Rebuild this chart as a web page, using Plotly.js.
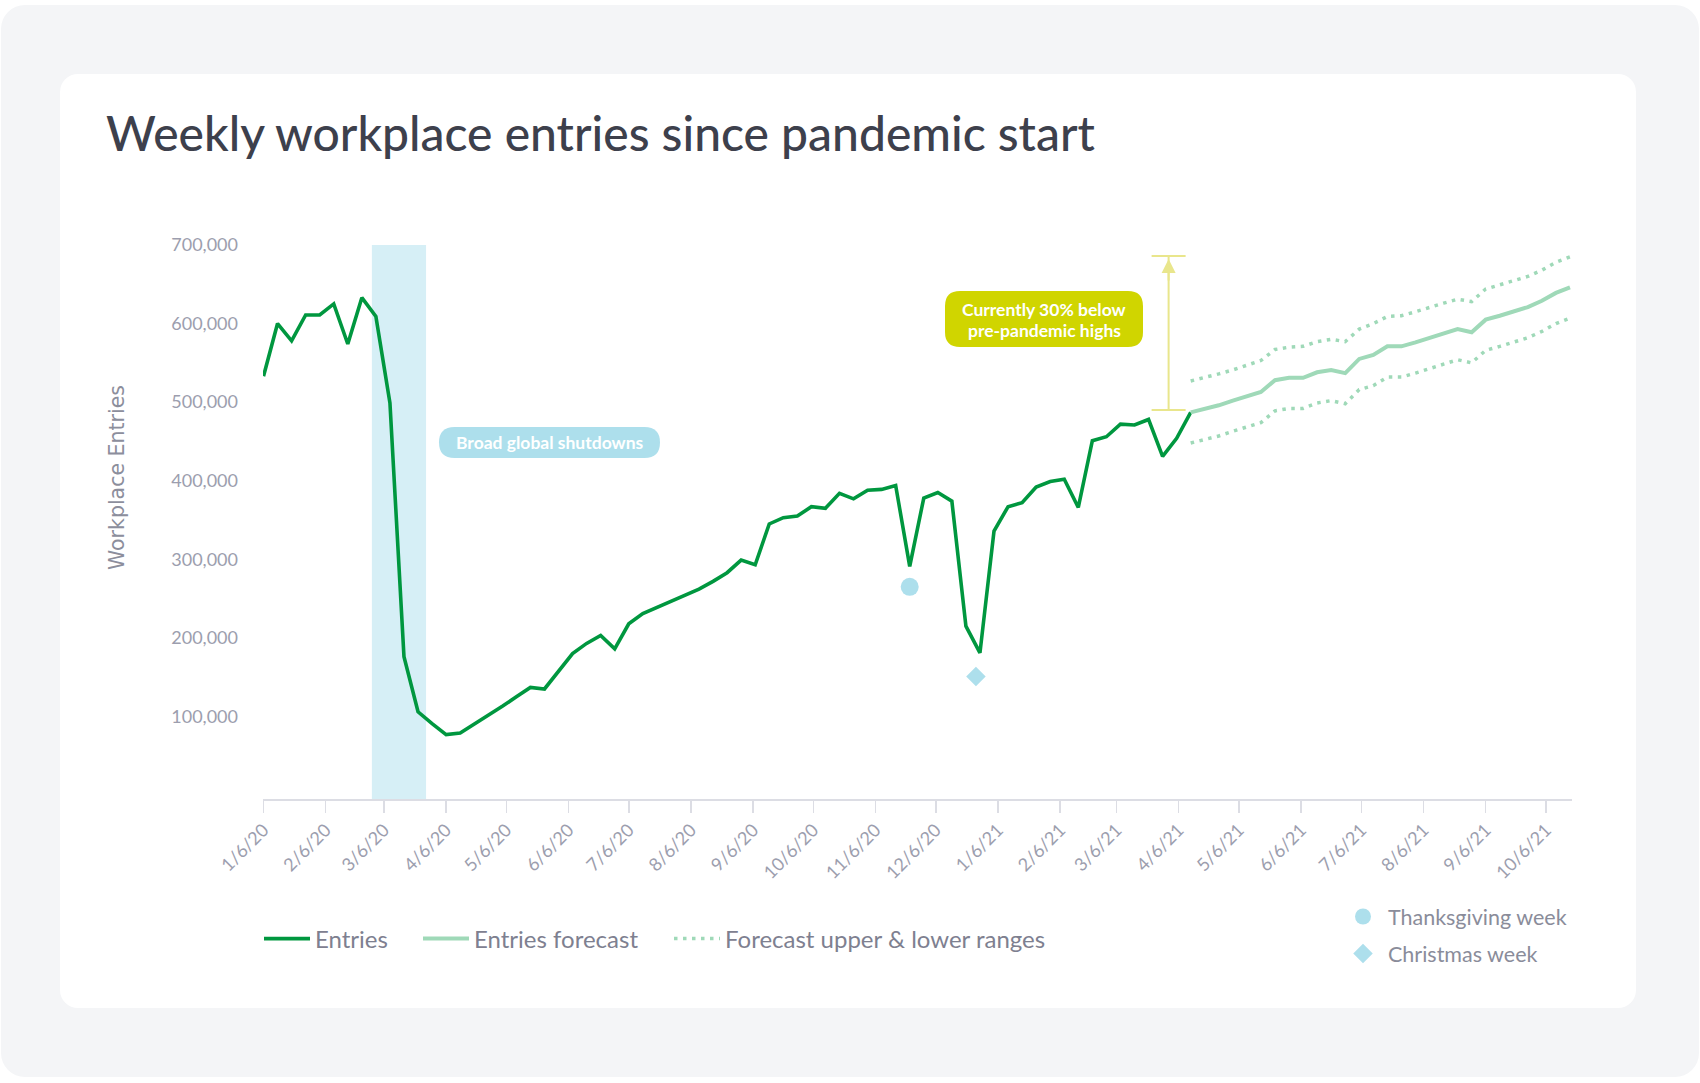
<!DOCTYPE html>
<html>
<head>
<meta charset="utf-8">
<script src="https://cdn.plot.ly/plotly-3.0.1.min.js"></script>
<style>
html,body{margin:0;padding:0;background:#ffffff;width:1700px;height:1083px;overflow:hidden;}
#outer{position:absolute;left:1px;top:5px;width:1698px;height:1072px;background:#f4f5f7;border-radius:24px;}
#card{position:absolute;left:60px;top:74px;width:1576px;height:934px;background:#ffffff;border-radius:18px;}
#chart{position:absolute;left:0;top:0;width:1700px;height:1083px;}
</style>
</head>
<body>
<div id="outer"></div>
<div id="card"></div>
<div id="chart"></div>
<script>
// ---------------- DATA ----------------
const entryWeeks = [
  '2020-01-06','2020-01-13','2020-01-20','2020-01-27','2020-02-03','2020-02-10','2020-02-17','2020-02-24',
  '2020-03-02','2020-03-09','2020-03-16','2020-03-23','2020-03-30','2020-04-06','2020-04-13','2020-04-20',
  '2020-04-27','2020-05-04','2020-05-11','2020-05-18','2020-05-25','2020-06-01','2020-06-08','2020-06-15',
  '2020-06-22','2020-06-29','2020-07-06','2020-07-13','2020-07-20','2020-07-27','2020-08-03','2020-08-10',
  '2020-08-17','2020-08-24','2020-08-31','2020-09-07','2020-09-14','2020-09-21','2020-09-28','2020-10-05',
  '2020-10-12','2020-10-19','2020-10-26','2020-11-02','2020-11-09','2020-11-16','2020-11-23','2020-11-30',
  '2020-12-07','2020-12-14','2020-12-21','2020-12-28','2021-01-04','2021-01-11','2021-01-18','2021-01-25',
  '2021-02-01','2021-02-08','2021-02-15','2021-02-22','2021-03-01','2021-03-08','2021-03-15','2021-03-22',
  '2021-03-29','2021-04-05','2021-04-12'
];
const entries = [
  533000, 600000, 578000, 611000, 611000, 625000, 574000, 633000, 609000, 499000,
  176000, 106000,  91000,  77000,  79000,  90000, 102000, 113000, 125000, 137000,
  135000, 158000, 180000, 193000, 203000, 186000, 218000, 231000, 239000, 247000,
  254000, 262000, 272000, 283000, 299000, 293000, 345000, 353000, 355000, 367000,
  365000, 384000, 377000, 388000, 389000, 394000, 291000, 378000, 385000, 374000,
  215000, 181000, 336000, 367000, 372000, 392000, 399000, 402000, 366000, 451000,
  456000, 472000, 471000, 478000, 431000, 454000, 487000
];
const forecastWeeks = [
  '2021-04-12','2021-04-19','2021-04-26','2021-05-03','2021-05-10','2021-05-17','2021-05-24','2021-05-31',
  '2021-06-07','2021-06-14','2021-06-21','2021-06-28','2021-07-05','2021-07-12','2021-07-19','2021-07-26',
  '2021-08-02','2021-08-09','2021-08-16','2021-08-23','2021-08-30','2021-09-06','2021-09-13','2021-09-20',
  '2021-09-27','2021-10-04','2021-10-11','2021-10-18'
];
const forecast = [
  487000, 491000, 496000, 502000, 508000, 513000, 528000, 531000, 531000, 538000,
  541000, 537000, 555000, 560000, 571000, 571000, 576000, 582000, 587000, 593000,
  589000, 605000, 610000, 615000, 621000, 629000, 639000, 646000
];
const forecastUpper = [
  527000, 531000, 536000, 541000, 547000, 553000, 567000, 570000, 571000, 577000,
  580000, 577000, 593000, 600000, 609000, 610000, 615000, 621000, 626000, 631000,
  628000, 644000, 649000, 654000, 660000, 668000, 678000, 685000
];
const forecastLower = [
  448000, 452000, 457000, 463000, 469000, 474000, 489000, 492000, 492000, 499000,
  502000, 498000, 516000, 521000, 532000, 532000, 537000, 543000, 548000, 554000,
  550000, 566000, 571000, 576000, 582000, 590000, 600000, 607000
];
const thanksgivingWeek = ['2020-11-23'];
const thanksgivingValue = [265000];
const christmasWeek = ['2020-12-26'];
const christmasValue = [151000];
const shutdownStart = '2020-02-29';
const shutdownEnd = '2020-03-27';
const gapDate = '2021-04-01';
const gapLow = 490000;
const gapHigh = 686000;
const yTicks = [100000, 200000, 300000, 400000, 500000, 600000, 700000];
const xStart = '2020-01-05 18:00';
const xEnd = '2021-10-19';

// ---------------- LAYOUT HELPERS ----------------
const PL = 263, PR = 1572, PT = 245, PB = 799;
const PW = PR - PL, PH = PB - PT;
const X = p => (p - PL) / PW;
const Y = p => (PB - p) / PH;
function rr(x0, y0, x1, y1, r) {
  return `M${X(x0 + r)},${Y(y0)} L${X(x1 - r)},${Y(y0)} Q${X(x1)},${Y(y0)} ${X(x1)},${Y(y0 + r)} ` +
         `L${X(x1)},${Y(y1 - r)} Q${X(x1)},${Y(y1)} ${X(x1 - r)},${Y(y1)} ` +
         `L${X(x0 + r)},${Y(y1)} Q${X(x0)},${Y(y1)} ${X(x0)},${Y(y1 - r)} ` +
         `L${X(x0)},${Y(y0 + r)} Q${X(x0)},${Y(y0)} ${X(x0 + r)},${Y(y0)} Z`;
}

const GREEN = '#00973f';
const LIGHTGREEN = '#9fd9b8';
const BLUE = '#addfec';
const YELLOW = '#d0d500';
const YELLOWLINE = '#e9e68c';
const TICKC = '#9c9eae';
const FONT = 'Lato, "Open Sans", sans-serif';

// ---------------- TRACES ----------------
const traces = [
  {
    x: entryWeeks, y: entries, type: 'scatter', mode: 'lines', name: 'Entries',
    line: {color: GREEN, width: 3.6}, legend: 'legend'
  },
  {
    x: forecastWeeks, y: forecast, type: 'scatter', mode: 'lines', name: 'Entries forecast',
    line: {color: LIGHTGREEN, width: 4}, legend: 'legend3'
  },
  {
    x: forecastWeeks, y: forecastUpper, type: 'scatter', mode: 'lines', name: 'Forecast upper &amp; lower ranges',
    line: {color: LIGHTGREEN, width: 3.5, dash: '3.5px,5.5px'}, legend: 'legend4', legendgroup: 'range'
  },
  {
    x: forecastWeeks, y: forecastLower, type: 'scatter', mode: 'lines', name: 'Forecast lower',
    line: {color: LIGHTGREEN, width: 3.5, dash: '3.5px,5.5px'}, legend: 'legend4', legendgroup: 'range', showlegend: false
  },
  {
    x: thanksgivingWeek, y: thanksgivingValue, type: 'scatter', mode: 'markers', name: 'Thanksgiving week',
    marker: {symbol: 'circle', size: 18, color: BLUE}, legend: 'legend2', legendgroup: 'tg'
  },
  {
    x: christmasWeek, y: christmasValue, type: 'scatter', mode: 'markers', name: 'Christmas week',
    marker: {symbol: 'diamond', size: 15, color: BLUE}, legend: 'legend2', legendgroup: 'cw'
  },
  {
    x: [gapDate], y: [(gapLow + gapHigh) / 2], type: 'scatter', mode: 'markers', showlegend: false,
    marker: {size: 1, opacity: 0}, hoverinfo: 'skip',
    error_y: {type: 'data', symmetric: true, array: [(gapHigh - gapLow) / 2], color: YELLOWLINE, thickness: 2, width: 17}
  }
];

const lineLegend = (xStartPx) => ({
  orientation: 'h', x: X(xStartPx), xanchor: 'left', y: Y(939), yanchor: 'middle',
  font: {family: FONT, size: 24, color: '#7e8090'}, bgcolor: 'rgba(0,0,0,0)',
  itemwidth: 46, traceorder: 'normal'
});

// ---------------- LAYOUT ----------------
const layout = {
  width: 1700, height: 1083,
  margin: {l: PL, r: 1700 - PR, t: PT, b: 1083 - PB, pad: 0},
  paper_bgcolor: 'rgba(0,0,0,0)', plot_bgcolor: 'rgba(0,0,0,0)',
  font: {family: FONT, color: TICKC},
  title: {
    text: 'Weekly workplace entries since pandemic start',
    font: {family: FONT, size: 48, color: '#3d404c', weight: 500},
    xref: 'container', x: 106 / 1700, xanchor: 'left',
    yref: 'container', y: 1 - 134 / 1083, yanchor: 'middle'
  },
  xaxis: {
    type: 'date', range: [xStart, xEnd],
    tick0: '2020-01-06', dtick: 'M1', tickformat: '%-m/%-d/%y', tickangle: -45,
    ticks: 'outside', ticklen: 12, tickwidth: 1.5, tickcolor: '#dcdde4',
    showline: true, linecolor: '#dcdde4', linewidth: 1.5,
    showgrid: false, zeroline: false,
    tickfont: {family: FONT, size: 18, color: TICKC}
  },
  yaxis: {
    range: [-5000, 700000], tickvals: yTicks, tickformat: ',',
    showgrid: false, zeroline: false, showline: false, ticks: '',
    ticklabelstandoff: 24,
    tickfont: {family: FONT, size: 18, color: TICKC}
  },
  showlegend: true,
  legend: lineLegend(259),
  legend3: lineLegend(418),
  legend4: lineLegend(669),
  legend2: {
    orientation: 'v', x: X(1338), xanchor: 'left', y: Y(935), yanchor: 'middle',
    font: {family: FONT, size: 21.5, color: '#8a8c9a'}, bgcolor: 'rgba(0,0,0,0)',
    itemwidth: 40, tracegroupgap: 6, traceorder: 'grouped'
  },
  shapes: [
    {type: 'rect', xref: 'x', yref: 'paper', x0: shutdownStart, x1: shutdownEnd, y0: 0, y1: 1,
     fillcolor: '#d6eff6', line: {width: 0}, layer: 'below'},
    {type: 'path', xref: 'paper', yref: 'paper', path: rr(439, 427, 660, 458, 15.5),
     fillcolor: BLUE, line: {width: 0}, layer: 'above'},
    {type: 'path', xref: 'paper', yref: 'paper', path: rr(945, 291, 1143, 347, 15),
     fillcolor: YELLOW, line: {width: 0}, layer: 'above'}
  ],
  annotations: [
    {xref: 'paper', yref: 'paper', x: X(117), y: Y(478), text: 'Workplace Entries', textangle: -90,
     showarrow: false, xanchor: 'center', yanchor: 'middle',
     font: {family: '"DejaVu Sans", sans-serif', size: 20.5, color: '#8c8e9c'}},
    {xref: 'paper', yref: 'paper', x: X(549.5), y: Y(442.5), text: 'Broad global shutdowns',
     showarrow: false, xanchor: 'center', yanchor: 'middle',
     font: {family: FONT, size: 17.5, color: '#ffffff', weight: 700}},
    {xref: 'paper', yref: 'paper', x: X(1044), y: Y(309.5), text: 'Currently 30% below',
     showarrow: false, xanchor: 'center', yanchor: 'middle',
     font: {family: FONT, size: 17.5, color: '#ffffff', weight: 700}},
    {xref: 'paper', yref: 'paper', x: X(1044), y: Y(330), text: 'pre-pandemic highs',
     showarrow: false, xanchor: 'center', yanchor: 'middle',
     font: {family: FONT, size: 17.5, color: '#ffffff', weight: 700}},
    {xref: 'x', yref: 'y', x: gapDate, y: gapHigh, text: '', showarrow: true,
     axref: 'pixel', ayref: 'pixel', ax: 0, ay: 26, arrowhead: 2, arrowsize: 1.4, arrowwidth: 2,
     arrowcolor: YELLOWLINE, standoff: 3}
  ]
};

Plotly.newPlot('chart', traces, layout, {displayModeBar: false, staticPlot: true});
</script>
</body>
</html>
